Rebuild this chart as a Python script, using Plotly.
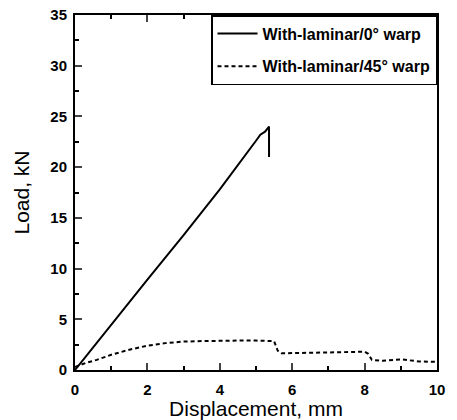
import plotly.graph_objects as go

# Solid: With-laminar/0° warp
x0 = [0.0, 0.2, 1.0, 2.0, 3.0, 4.0, 5.0, 5.12, 5.25, 5.36, 5.36]
y0 = [0.0, 0.9, 4.5, 8.9, 13.3, 17.8, 22.6, 23.2, 23.5, 24.0, 21.0]

# Dashed: With-laminar/45° warp
x45 = [0.0, 0.3, 0.6, 1.0, 1.5, 2.0, 2.5, 3.0, 3.5, 4.0, 4.5, 5.0, 5.5, 5.6, 5.7, 6.5, 7.5, 8.0, 8.1, 8.2, 8.5, 9.0, 9.5, 10.0]
y45 = [0.3, 0.7, 1.0, 1.5, 2.0, 2.4, 2.65, 2.8, 2.85, 2.9, 2.9, 2.9, 2.85, 1.9, 1.65, 1.7, 1.8, 1.8, 1.6, 1.0, 0.9, 1.05, 0.85, 0.8]

names = ["With-laminar/0\u00b0 warp", "With-laminar/45\u00b0 warp"]
xticks = [0, 2, 4, 6, 8, 10]
yticks = [0, 5, 10, 15, 20, 25, 30, 35]

fig = go.Figure()
fig.add_trace(go.Scatter(x=x0, y=y0, mode="lines", name=names[0], legendgroup="a",
                         line=dict(color="black", width=2)))
fig.add_trace(go.Scatter(x=x45, y=y45, mode="lines", name=names[1], legendgroup="b",
                         line=dict(color="black", width=2, dash="4px,3px")))

tickfont = dict(family="Liberation Sans", size=15, color="black", weight="bold")
titlefont = dict(family="Liberation Sans", size=21, color="black")
fig.update_layout(
    width=457, height=420,
    margin=dict(l=75, r=20, t=15, b=50),
    paper_bgcolor="white", plot_bgcolor="white",
    showlegend=True,
    legend=dict(x=1, y=1, xanchor="right", yanchor="top",
                bordercolor="black", borderwidth=1.5, bgcolor="white",
                font=dict(family="Liberation Sans", size=16, color="black", weight="bold"),
                tracegroupgap=9, itemwidth=40, entrywidth=260),
    xaxis=dict(range=[0, 10], tickvals=xticks, ticks="inside", ticklen=7, tickwidth=1.5,
               showline=True, linecolor="black", linewidth=2, mirror="ticks",
               showgrid=False, zeroline=False, tickfont=tickfont, ticklabelstandoff=5,
               automargin=False,
               minor=dict(dtick=1, ticks="inside", ticklen=4, tickcolor="black", showgrid=False),
               title=dict(text="Displacement, mm", standoff=1, font=titlefont)),
    yaxis=dict(range=[0, 35], tickvals=yticks, ticks="inside", ticklen=7, tickwidth=1.5,
               showline=True, linecolor="black", linewidth=2, mirror=True,
               showgrid=False, zeroline=False, tickfont=tickfont, ticklabelstandoff=3,
               automargin=False,
               minor=dict(dtick=2.5, ticks="inside", ticklen=4, tickcolor="black", showgrid=False),
               title=dict(text="Load, kN", standoff=15, font=titlefont)),
)

fig.write_html("out.html")
